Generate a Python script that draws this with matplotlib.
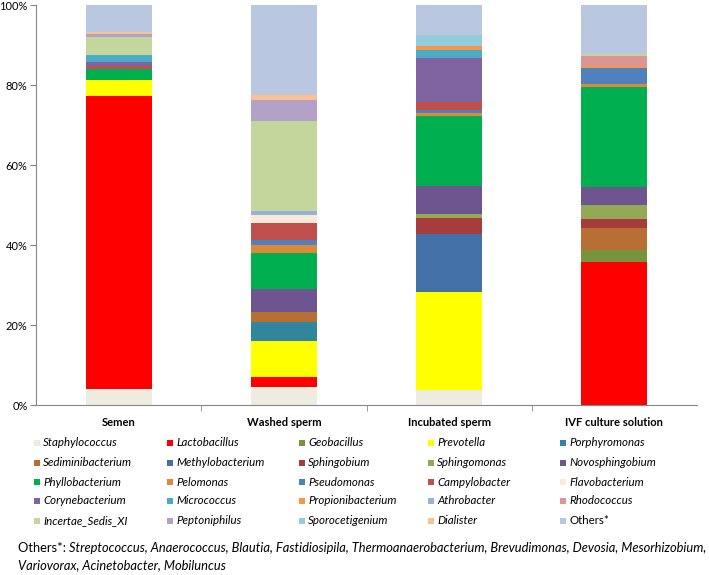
import numpy as np
import matplotlib
matplotlib.use("Agg")
import matplotlib.pyplot as plt
from matplotlib.patches import Rectangle

plt.rcParams['font.family'] = ['Lato', 'DejaVu Sans']

samples = ["Semen", "Washed sperm", "Incubated sperm", "IVF culture solution"]

taxa = ["Staphylococcus", "Lactobacillus", "Geobacillus", "Prevotella", "Porphyromonas",
        "Sediminibacterium", "Methylobacterium", "Sphingobium", "Sphingomonas", "Novosphingobium",
        "Phyllobacterium", "Pelomonas", "Pseudomonas", "Campylobacter", "Flavobacterium",
        "Corynebacterium", "Micrococcus", "Propionibacterium", "Athrobacter", "Rhodococcus",
        "Incertae_Sedis_XI", "Peptoniphilus", "Sporocetigenium", "Dialister", "Others*"]

colors = ["#EEECE1", "#FF0000", "#77933C", "#FFFF00", "#31859C",
          "#B76F34", "#4470A8", "#A63C3C", "#92A956", "#6F5590",
          "#00B050", "#E0883A", "#4F81BD", "#C0504D", "#FDE9D9",
          "#8064A2", "#4BACC6", "#F79646", "#95B3D7", "#D99694",
          "#C3D69B", "#B3A2C7", "#93CDDD", "#FAC090", "#B9C7E0"]

# relative abundance (%) per taxon, in the order of `taxa`
semen = [4.0, 73.3, 0, 4.0, 0, 0, 0, 0, 0, 0,
         2.6, 0, 0, 0.9, 0, 1.0, 1.7, 0, 0, 0,
         4.4, 0.8, 0, 0.5, 6.8]
washed = [4.6, 2.3, 0, 9.1, 4.8, 2.5, 0, 0, 0, 5.8,
          8.8, 2.2, 1.1, 4.4, 2.0, 0, 0, 0, 1.0, 0,
          22.4, 5.2, 0, 1.4, 22.4]
incubated = [3.75, 0, 0, 24.55, 0, 0, 14.45, 4.05, 0.95, 7.05,
             17.5, 0.6, 0.85, 2.05, 0, 11.0, 1.95, 1.05, 0, 0,
             0, 0, 2.7, 0, 7.5]
ivf = [0, 35.8, 2.95, 0, 0, 5.45, 0, 2.2, 3.6, 4.4,
       25.0, 0.85, 3.95, 0, 0, 0, 0, 0.6, 0, 2.45,
       0.5, 0, 0, 0, 12.25]

others_list = ("Streptococcus, Anaerococcus, Blautia, Fastidiosipila, Thermoanaerobacterium, "
               "Brevudimonas, Devosia, Mesorhizobium,")
others_list2 = "Variovorax, Acinetobacter, Mobiluncus"

data = np.array([semen, washed, incubated, ivf]).T

W, H = 709, 575
fig = plt.figure(figsize=(W / 100, H / 100), dpi=100)
ax = fig.add_axes([36 / W, 1 - 405 / H, (697 - 36) / W, 400 / H])

x = np.arange(len(samples))
bottom = np.zeros(len(samples))
for i, name in enumerate(taxa):
    ax.bar(x, data[i], 0.4, bottom=bottom, color=colors[i], linewidth=0)
    bottom += data[i]

ax.set_xlim(-0.5, len(samples) - 0.5)
ax.set_ylim(0, 100)
ax.set_yticks(np.arange(0, 101, 20))
ax.set_yticklabels([f"{v}%" for v in range(0, 101, 20)], fontsize=8)
ax.set_xticks(x)
ax.set_xticklabels(samples, fontsize=8, fontweight='bold')
ax.set_xticks(np.arange(0.5, len(samples) - 0.5, 1), minor=True)
ax.tick_params(axis='x', which='major', length=0, pad=9)
ax.tick_params(axis='x', which='minor', length=4, color='#868686')
ax.tick_params(axis='y', length=4, color='#868686', pad=2)
for s in ['top', 'right']:
    ax.spines[s].set_visible(False)
for s in ['left', 'bottom']:
    ax.spines[s].set_color('#868686')
    ax.spines[s].set_linewidth(0.8)

# legend, 5 per row
col_x = [37, 170, 302, 431, 563]
row_y = [443, 462.5, 482, 501, 520.5]
for i, name in enumerate(taxa):
    r, c = divmod(i, 5)
    px, py = col_x[c], row_y[r]
    fig.add_artist(Rectangle(((px - 3) / W, 1 - (py + 3) / H), 6 / W, 6 / H,
                             transform=fig.transFigure, color=colors[i], linewidth=0))
    fig.text((px + 6) / W, 1 - py / H, name, fontsize=8.3,
             style='italic' if name != "Others*" else 'normal', va='center', ha='left')

# footnote
t = fig.text(18 / W, 1 - 548 / H, "Others*: ", fontsize=9.3, va='center', ha='left')
r = fig.canvas.get_renderer()
bb = t.get_window_extent(r)
fig.text(bb.x1 / W, 1 - 548 / H, others_list, fontsize=9.3, style='italic', va='center', ha='left')
fig.text(18 / W, 1 - 565 / H, others_list2, fontsize=9.3, style='italic', va='center', ha='left')

fig.savefig("out.png", dpi=100)
